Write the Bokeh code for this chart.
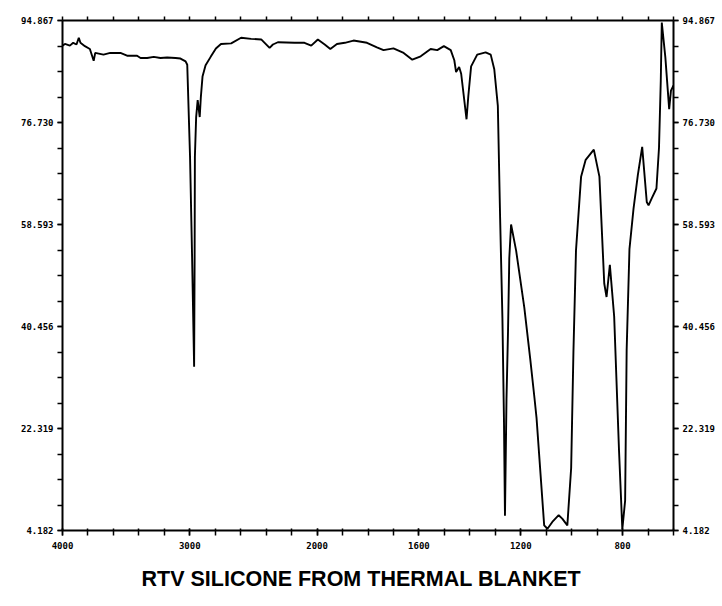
from bokeh.plotting import figure
from bokeh.models import Range1d, LinearAxis, FixedTicker, Title
from bokeh.embed import file_html
from bokeh.resources import INLINE

# IR transmission spectrum of RTV silicone (wavenumber in cm-1, % transmittance)
wavenumber = [
    4000, 3981, 3942, 3916, 3890, 3872, 3859, 3824, 3785, 3755, 3743, 3678,
    3625, 3545, 3493, 3414, 3387, 3335, 3283, 3230, 3178, 3112, 3073, 3033,
    3020, 2998, 2982, 2966, 2962, 2960, 2950, 2938, 2922, 2913, 2900, 2876,
    2836, 2795, 2755, 2675, 2597, 2518, 2439, 2373, 2347, 2308, 2177, 2099,
    2046, 1997, 1970, 1948, 1922, 1891, 1857, 1804, 1765, 1739, 1700, 1660,
    1626, 1593, 1554, 1528, 1502, 1475, 1461, 1454, 1442, 1434, 1413, 1406,
    1395, 1371, 1338, 1318, 1304, 1290, 1281, 1272, 1266, 1262, 1256, 1250,
    1245, 1238, 1218, 1186, 1163, 1146, 1138, 1108, 1095, 1076, 1051, 1037,
    1017, 1002, 993, 983, 963, 945, 913, 891, 872, 863, 850, 833, 814, 801,
    790, 784, 773, 757, 740, 723, 705, 698, 686, 667, 657, 650, 646, 632,
    617, 610, 600,
]
transmittance = [
    90.4, 90.7, 90.4, 90.9, 90.6, 91.8, 90.9, 90.3, 89.8, 87.7, 89.1, 88.8,
    89.1, 89.1, 88.6, 88.6, 88.2, 88.2, 88.4, 88.2, 88.3, 88.2, 88.1, 87.6,
    87.0, 70.6, 52.8, 33.3, 52.8, 70.6, 77.7, 80.7, 77.7, 81.3, 84.9, 86.9,
    88.4, 89.9, 90.7, 90.8, 91.8, 91.6, 91.5, 90.0, 90.6, 91.0, 90.9, 90.9,
    90.4, 91.5, 90.6, 89.8, 90.7, 90.9, 91.3, 90.9, 90.1, 89.6, 89.9, 89.1,
    87.9, 88.5, 89.8, 89.6, 90.3, 89.6, 87.8, 85.7, 86.6, 85.4, 77.3, 81.4,
    86.7, 88.8, 89.2, 88.8, 86.2, 79.7, 59.7, 41.9, 24.1, 6.8, 27.6, 39.6,
    52.6, 58.6, 53.9, 43.8, 34.8, 27.7, 24.2, 5.1, 4.5, 5.7, 6.9, 6.3,
    5.1, 15.3, 36.1, 54.0, 67.1, 70.1, 71.9, 67.1, 48.1, 45.7, 51.4, 42.2, 18.4, 4.4,
    9.5, 36.3, 54.2, 61.4, 67.4, 72.4, 62.6, 62.0, 63.2, 65.0, 72.2, 84.1, 94.5, 88.3,
    79.1, 82.4, 83.3,
]

# Tick marks along the wavenumber axis and the ones that carry a label
x_ticks = [4000, 3800, 3600, 3400, 3200, 3000, 2800, 2600, 2400, 2200, 2000,
           1900, 1800, 1700, 1600, 1500, 1400, 1300, 1200, 1100, 1000,
           900, 800, 700, 600]
x_labels = {4000: "4000", 3000: "3000", 2000: "2000", 1600: "1600",
            1200: "1200", 800: "800"}

# Transmittance axis: labelled values; four divisions between labels
y_labels = ["4.182", "22.319", "40.456", "58.593", "76.730", "94.867"]
y_min, y_max = 4.182, 94.867


def chart_x(wn):
    """The chart paper doubles its scale below 2000 cm-1."""
    if wn >= 2000:
        return (4000 - wn) / 200.0
    return 10 + (2000 - wn) / 100.0


xs = [chart_x(w) for w in wavenumber]
x_all = [chart_x(w) for w in x_ticks]
x_major = [chart_x(w) for w in x_labels]
x_overrides = {chart_x(w): s for w, s in x_labels.items()}

y_major = [float(v) for v in y_labels]
step = (y_major[1] - y_major[0]) / 4
y_minor = [y_min + i * step for i in range(21)]
y_overrides = {float(v): v for v in y_labels}

p = figure(width=722, height=606,
           x_range=Range1d(chart_x(4000), chart_x(600)),
           y_range=Range1d(y_min, y_max),
           output_backend="svg", toolbar_location=None,
           min_border_left=62, min_border_right=49,
           min_border_top=20, min_border_bottom=76)
p.grid.visible = False
p.outline_line_color = None
p.background_fill_color = "white"
p.border_fill_color = "white"

p.line(xs, transmittance, line_color="black", line_width=1.9)

label_font = "DejaVu Sans Mono"


def style_axis(ax, tick_in=0, tick_out=5):
    ax.axis_line_color = "black"
    ax.axis_line_width = 2
    ax.major_tick_line_color = "black"
    ax.major_tick_line_width = 1.5
    ax.minor_tick_line_color = "black"
    ax.minor_tick_line_width = 1.5
    ax.major_tick_in = tick_in
    ax.major_tick_out = tick_out
    ax.minor_tick_in = tick_in
    ax.minor_tick_out = tick_out
    ax.major_label_text_font = label_font
    ax.major_label_text_font_style = "bold"
    ax.major_label_text_font_size = "9px"
    ax.major_label_text_color = "black"


# Wavenumber axis below: labelled marks are majors, the rest minors
xb = p.xaxis[0]
xb.ticker = FixedTicker(ticks=x_major, minor_ticks=x_all)
xb.major_label_overrides = x_overrides
xb.major_label_standoff = 6
style_axis(xb, tick_in=2, tick_out=5)

# Tick marks along the top edge (no labels)
xt = LinearAxis(ticker=FixedTicker(ticks=[], minor_ticks=x_all))
style_axis(xt, tick_in=0, tick_out=4)
p.add_layout(xt, "above")

# Transmittance axes on both sides
yl = p.yaxis[0]
yl.ticker = FixedTicker(ticks=y_major, minor_ticks=y_minor)
yl.major_label_overrides = y_overrides
yl.major_label_standoff = 4
style_axis(yl)

yr = LinearAxis(ticker=FixedTicker(ticks=y_major, minor_ticks=y_minor))
yr.major_label_overrides = y_overrides
yr.major_label_standoff = 4
style_axis(yr)
p.add_layout(yr, "right")

title = Title(text="RTV SILICONE FROM THERMAL BLANKET", align="left",
              text_font="Liberation Sans", text_font_style="bold",
              text_font_size="21.5px", text_color="black",
              standoff=26, offset=79)
p.add_layout(title, "below")

open("out.html", "w").write(file_html(p, INLINE))
